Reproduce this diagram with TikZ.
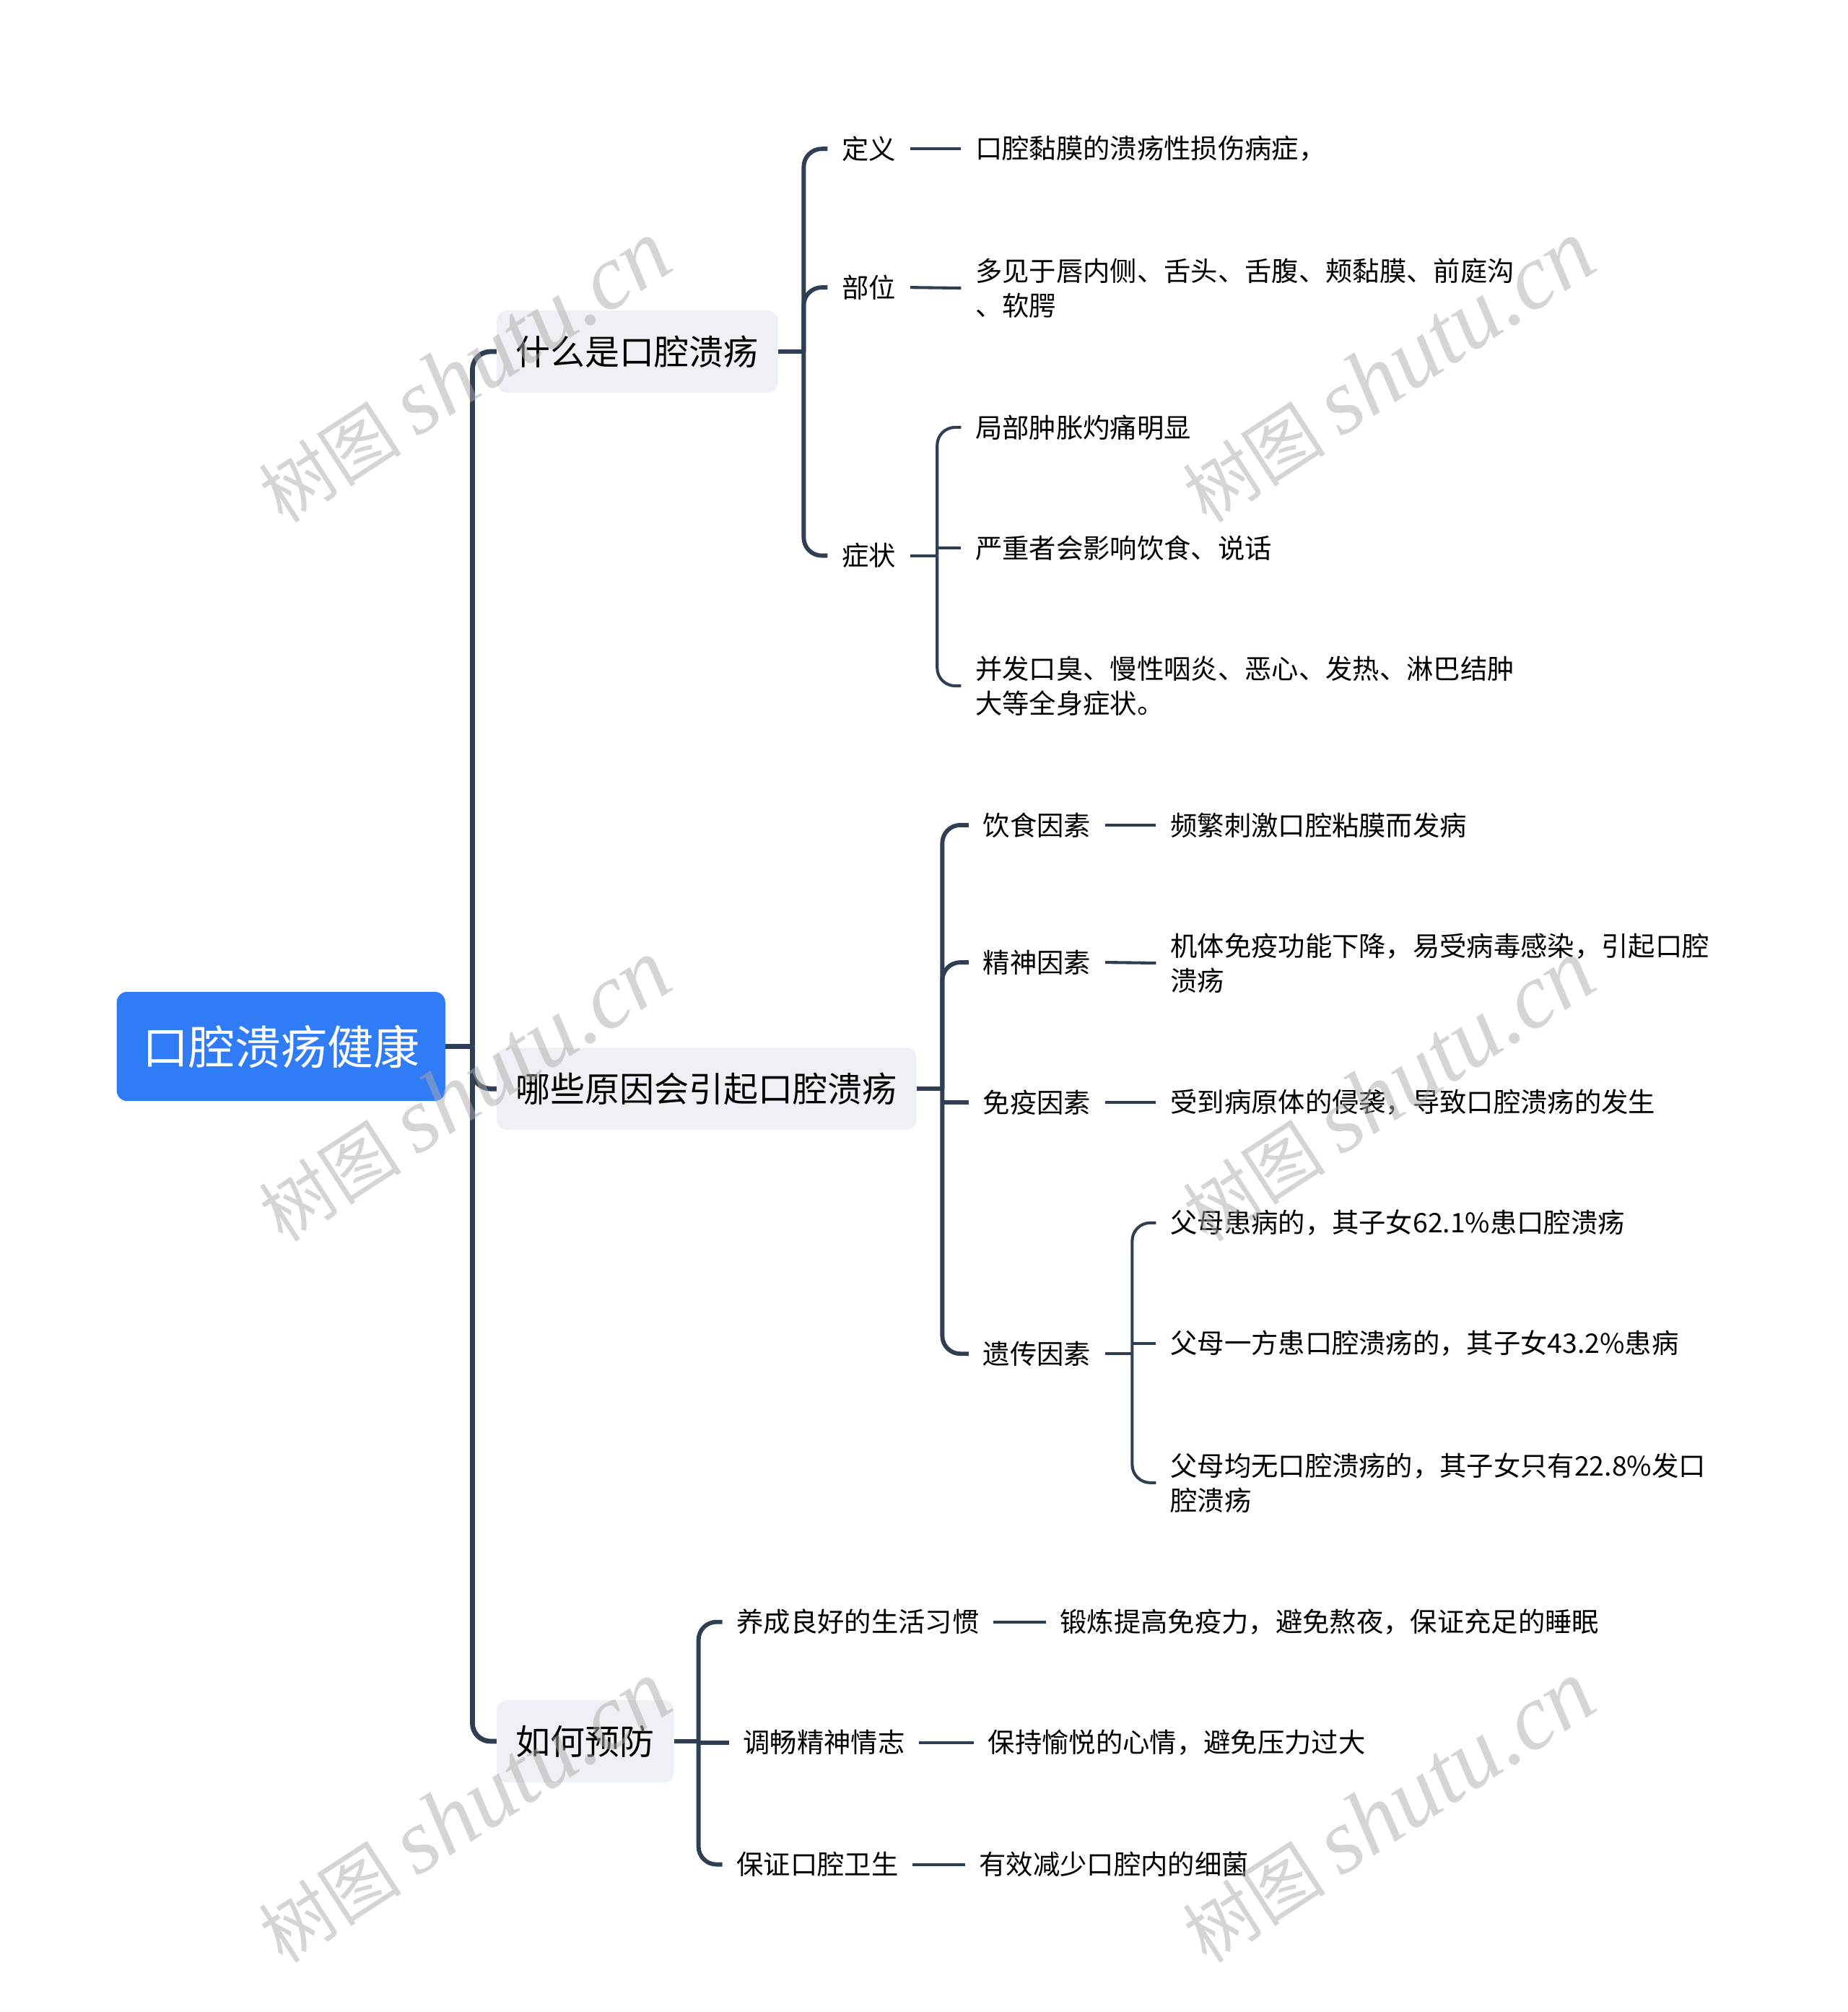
\documentclass[tikz,border=0pt]{standalone}
\usepackage{fontspec}
\setmainfont{Noto Sans CJK SC}
\newfontfamily\markfont{Liberation Serif}
\usepackage{tikz}
\usetikzlibrary{positioning}

\definecolor{rootblue}{HTML}{2F7CF6}
\definecolor{topicgray}{HTML}{EDF0F4}
\definecolor{linecol}{HTML}{2F3E52}

\begin{document}
\begin{tikzpicture}[x=1pt, y=-1pt,
    rootbox/.style={fill=rootblue, text=white, rounded corners=8pt, minimum width=256pt, minimum height=85pt, inner sep=0pt, font=\fontsize{36}{40}\selectfont},
    topicbox/.style={fill=topicgray, rounded corners=8pt, anchor=west, minimum height=64pt, inner xsep=15pt, font=\fontsize{27}{32}\selectfont},
    leaf/.style={anchor=west, inner xsep=11pt, inner ysep=2pt, align=left, font=\fontsize{21}{27}\selectfont},
    conn/.style={draw=linecol, line width=#1},
    conn/.default=2.3pt,
    branch/.style={conn=#1, rounded corners=14pt},
    branch/.default=2.3pt,
    wmark/.style={text=gray!65, opacity=0.5, rotate=33, font=\fontsize{56}{60}\selectfont}]

    \fill[white] (0,0) rectangle (1440,1568);
    \useasboundingbox (0,0) rectangle (1440,1568);

    \node[rootbox] (root) at (219,815.5) {口腔溃疡健康};

    \node[topicbox] (t1) at (387,274) {什么是口腔溃疡};
    \node[topicbox] (t2) at (387,848.5) {哪些原因会引起口腔溃疡};
    \node[topicbox] (t3) at (387,1357) {如何预防};

    % 什么是口腔溃疡
    \node[leaf] (a1) at (645,116) {定义};
    \node[leaf] (a1t) at (749,116) {口腔黏膜的溃疡性损伤病症，};
    \node[leaf] (a2) at (645,224) {部位};
    \node[leaf] (a2t) at (749,224.5) {多见于唇内侧、舌头、舌腹、颊黏膜、前庭沟\\、软腭};
    \node[leaf] (a3) at (645,433) {症状};
    \node[leaf] (q1) at (749,333) {局部肿胀灼痛明显};
    \node[leaf] (q2) at (749,427) {严重者会影响饮食、说话};
    \node[leaf] (q3) at (749,534.5) {并发口臭、慢性咽炎、恶心、发热、淋巴结肿\\大等全身症状。};

    % 哪些原因会引起口腔溃疡
    \node[leaf] (b1) at (755,643) {饮食因素};
    \node[leaf] (b1t) at (901,643) {频繁刺激口腔粘膜而发病};
    \node[leaf] (b2) at (755,750) {精神因素};
    \node[leaf] (b2t) at (901,750.5) {机体免疫功能下降，易受病毒感染，引起口腔\\溃疡};
    \node[leaf] (b3) at (755,859) {免疫因素};
    \node[leaf] (b3t) at (901,859) {受到病原体的侵袭，导致口腔溃疡的发生};
    \node[leaf] (b4) at (755,1055) {遗传因素};
    \node[leaf] (g1) at (901,953) {父母患病的，其子女62.1\%患口腔溃疡};
    \node[leaf] (g2) at (901,1047) {父母一方患口腔溃疡的，其子女43.2\%患病};
    \node[leaf] (g3) at (901,1155.5) {父母均无口腔溃疡的，其子女只有22.8\%发口\\腔溃疡};

    % 如何预防
    \node[leaf] (c1) at (563,1264) {养成良好的生活习惯};
    \node[leaf] (c1t) at (815,1264) {锻炼提高免疫力，避免熬夜，保证充足的睡眠};
    \node[leaf] (c2) at (568,1358) {调畅精神情志};
    \node[leaf] (c2t) at (759,1358) {保持愉悦的心情，避免压力过大};
    \node[leaf] (c3) at (563,1453) {保证口腔卫生};
    \node[leaf] (c3t) at (752,1453) {有效减少口腔内的细菌};

    % connectors
    \draw[conn=3.8pt] (root.east) -- ++(21,0) coordinate (s0);
    \foreach \t in {t1,t2,t3}
        \draw[branch=3.8pt] (s0) |- (\t.west);

    \draw[conn=3.3pt] (t1.east) -- ++(20,0) coordinate (s1);
    \foreach \c in {a1,a2,a3}
        \draw[branch=3.3pt] (s1) |- (\c.west);
    \draw[conn] (a1.east) -- (a1t.west);
    \draw[conn] (a2.east) -- (a2t.west);
    \draw[conn] (a3.east) -- ++(21,0) coordinate (s3);
    \draw[branch] (s3) |- (q1.west);
    \draw[branch] (s3) |- (q3.west);
    \draw[conn] (s3 |- q2.west) -- (q2.west);

    \draw[conn=3.3pt] (t2.east) -- ++(20,0) coordinate (s2);
    \foreach \c in {b1,b2,b4}
        \draw[branch=3.3pt] (s2) |- (\c.west);
    \draw[conn=3.3pt] (s2 |- b3.west) -- (b3.west);
    \draw[conn] (b1.east) -- (b1t.west);
    \draw[conn] (b2.east) -- (b2t.west);
    \draw[conn] (b3.east) -- (b3t.west);
    \draw[conn] (b4.east) -- ++(21,0) coordinate (s4);
    \draw[branch] (s4) |- (g1.west);
    \draw[branch] (s4) |- (g3.west);
    \draw[conn] (s4 |- g2.west) -- (g2.west);

    \draw[conn=3.3pt] (t3.east) -- ++(19,0) coordinate (s5);
    \draw[branch=3.3pt] (s5) |- (c1.west);
    \draw[branch=3.3pt] (s5) |- (c3.west);
    \draw[conn=3.3pt] (s5 |- c2.west) -- (c2.west);
    \draw[conn] (c1.east) -- (c1t.west);
    \draw[conn] (c2.east) -- (c2t.west);
    \draw[conn] (c3.east) -- (c3t.west);

    % watermark
    \foreach \wx/\wy [count=\i] in {362/290, 1082/290, 362/850, 1082/850, 362/1412, 1082/1412}
        \node[wmark] (w\i) at (\wx,\wy) {树图 {\markfont\itshape\fontsize{72}{76}\selectfont shutu.cn}};
\end{tikzpicture}
\end{document}
